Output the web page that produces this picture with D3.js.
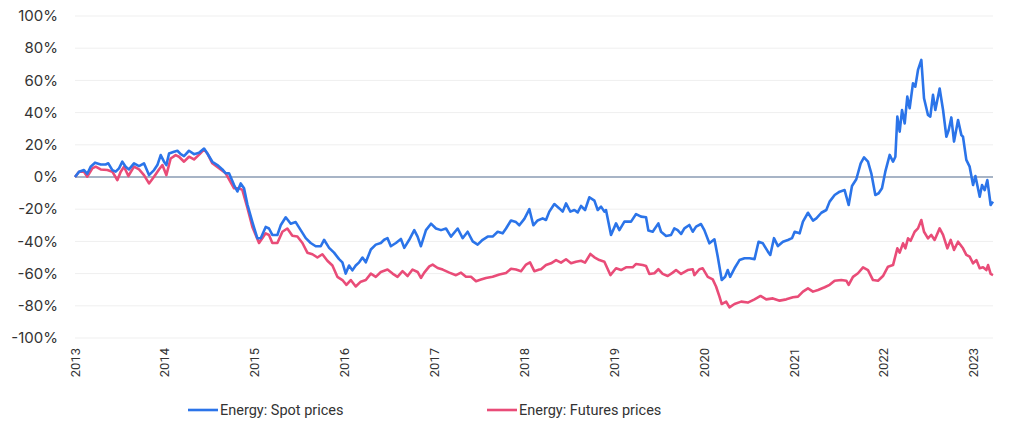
<!DOCTYPE html>
<html>
<head>
<meta charset="utf-8">
<script src="https://cdn.jsdelivr.net/npm/d3@7"></script>
<style>
  body { margin: 0; background: #fff; }
  text { font-family: Inter, "Noto Sans", sans-serif; fill: #333; }
  .legend text, .xlabel { font-family: Roboto, "Noto Sans", sans-serif; }
</style>
</head>
<body>
<script>
//chart size
var w = 1024, h = 435;

//series names
var seriesNames = ["Energy: Spot prices", "Energy: Futures prices"];

//y tick values (percent)
var yTicks = [100, 80, 60, 40, 20, 0, -20, -40, -60, -80, -100];

//x tick labels (years)
var xTickYears = [2013, 2014, 2015, 2016, 2017, 2018, 2019, 2020, 2021, 2022, 2023];

//spot prices: dates as decimal years, values in %
var spotDates = [2013.000, 2013.045, 2013.100, 2013.137, 2013.174, 2013.223, 2013.286, 2013.341, 2013.371, 2013.416,
    2013.453, 2013.490, 2013.527, 2013.564, 2013.601, 2013.657, 2013.713, 2013.768, 2013.824, 2013.880,
    2013.917, 2013.954, 2013.991, 2014.017, 2014.047, 2014.102, 2014.140, 2014.177, 2014.214, 2014.269,
    2014.325, 2014.381, 2014.437, 2014.474, 2014.529, 2014.585, 2014.641, 2014.678, 2014.715, 2014.771,
    2014.808, 2014.845, 2014.882, 2014.919, 2014.975, 2015.030, 2015.068, 2015.123, 2015.160, 2015.197,
    2015.253, 2015.290, 2015.346, 2015.402, 2015.457, 2015.513, 2015.569, 2015.624, 2015.680, 2015.736,
    2015.773, 2015.829, 2015.884, 2015.940, 2015.977, 2016.014, 2016.051, 2016.088, 2016.125, 2016.163,
    2016.200, 2016.237, 2016.293, 2016.348, 2016.404, 2016.441, 2016.478, 2016.515, 2016.571, 2016.627,
    2016.664, 2016.719, 2016.775, 2016.812, 2016.849, 2016.905, 2016.961, 2017.016, 2017.072, 2017.128,
    2017.183, 2017.258, 2017.313, 2017.369, 2017.425, 2017.480, 2017.536, 2017.592, 2017.647, 2017.703,
    2017.759, 2017.796, 2017.851, 2017.907, 2017.944, 2018.000, 2018.056, 2018.100, 2018.148,
    2018.204, 2018.241, 2018.278, 2018.334, 2018.390, 2018.427, 2018.464, 2018.512, 2018.557, 2018.594,
    2018.631, 2018.676, 2018.724, 2018.780, 2018.817, 2018.854, 2018.891, 2018.909, 2018.965, 2019.021,
    2019.058, 2019.114, 2019.188, 2019.244, 2019.299, 2019.355, 2019.381, 2019.429, 2019.492, 2019.522,
    2019.578, 2019.633, 2019.670, 2019.707, 2019.745, 2019.782, 2019.837, 2019.875, 2019.912, 2019.967,
    2020.004, 2020.060, 2020.116, 2020.153, 2020.197, 2020.235, 2020.264, 2020.290, 2020.339, 2020.394,
    2020.450, 2020.506, 2020.561, 2020.606, 2020.654, 2020.710, 2020.736, 2020.777, 2020.821, 2020.877,
    2020.932, 2020.977, 2021.007, 2021.062, 2021.099, 2021.155, 2021.211, 2021.248, 2021.304, 2021.359,
    2021.396, 2021.452, 2021.508, 2021.563, 2021.608, 2021.645, 2021.693, 2021.742, 2021.779, 2021.823,
    2021.860, 2021.905, 2021.942, 2021.979, 2022.016, 2022.065, 2022.102, 2022.128, 2022.150, 2022.176,
    2022.202, 2022.232, 2022.261, 2022.287, 2022.324, 2022.350, 2022.380, 2022.417, 2022.447, 2022.491,
    2022.517, 2022.547, 2022.573, 2022.621, 2022.659, 2022.696, 2022.722, 2022.751, 2022.781, 2022.826,
    2022.863, 2022.881, 2022.918, 2022.955, 2022.993, 2023.019, 2023.067, 2023.093, 2023.122, 2023.152,
    2023.189, 2023.215];
var spotValues = [0, 3.3, 4.3, 2, 6.4, 8.9, 7.8, 7.8, 8.5, 4.3,
    3.3, 5.4, 9.5, 6.4, 4.7, 8.5, 6.8, 8.5, 1.2, 4.3,
    7.4, 13.6, 9.5, 7.4, 14.6, 15.7, 16.3, 14.2, 13, 16.3,
    14.2, 15, 17.7, 14.6, 9.5, 7.4, 4.7, 2.3, 2.3, -5,
    -9, -4, -7, -17, -28, -38, -38, -31, -32, -36,
    -36, -30, -25, -29, -28, -33, -38, -41, -43, -43,
    -39, -44, -47, -51, -53, -60, -55, -58, -55, -53,
    -50, -53, -45, -42, -41, -39, -38, -43, -41, -38.5,
    -44, -39, -33, -37, -43, -33, -29, -32, -33, -32,
    -37, -32, -38, -34, -40, -42, -39, -37, -37, -34,
    -35, -32, -27, -28, -30, -26, -20, -30, -27,
    -25.7, -26.7, -21.5, -16.8, -19.5, -21.5, -16.4, -21.5, -20.5, -22,
    -18, -20.5, -12.6, -14.7, -20.5, -18.4, -21.5, -20.5, -36, -28.8,
    -33, -27.7, -27.7, -23, -24.6, -25, -33.3, -34, -28.8, -34,
    -36.6, -36, -31.9, -33, -35.4, -31.9, -29.8, -34, -30.8, -29.2,
    -33, -41.2, -38.7, -49.5, -64, -62, -57.8, -62, -56.7, -51.6,
    -50.5, -50.5, -51, -40.2, -41.2, -46.4, -48.4, -38, -42.9, -40.2,
    -39.1, -38, -34, -35, -27.7, -22.2, -27.1, -25.7, -22.2, -20.5,
    -15.3, -11.2, -9.1, -8.1, -17.4, -5.6, -1.4, 8.5, 12.2, 9.5,
    2.3, -11.2, -10.1, -7, 3.3, 13.7, 9.5, 12.6, 37.5, 28.2,
    41.6, 33.3, 49.9, 42.7, 58.2, 56.1, 66.5, 72.7, 48.9, 38.5,
    37.5, 51, 41.6, 55, 41.6, 25, 29.2, 37, 22, 35.4,
    26, 25, 10.6, 6.4, -5, 0.6, -12.2, -5, -8.1, -1.9,
    -17.4, -15.3];

//futures prices: dates as decimal years, values in %
var futDates = [2013.000, 2013.045, 2013.100, 2013.137, 2013.193, 2013.230, 2013.286, 2013.360, 2013.416, 2013.471,
    2013.509, 2013.546, 2013.594, 2013.657, 2013.713, 2013.768, 2013.824, 2013.880, 2013.935, 2013.973,
    2014.017, 2014.065, 2014.121, 2014.158, 2014.214, 2014.269, 2014.325, 2014.388, 2014.437, 2014.474,
    2014.529, 2014.678, 2014.771, 2014.826, 2014.863, 2014.919, 2014.975, 2015.049, 2015.123, 2015.160,
    2015.197, 2015.253, 2015.309, 2015.364, 2015.420, 2015.476, 2015.532, 2015.587, 2015.643, 2015.699,
    2015.754, 2015.810, 2015.866, 2015.921, 2015.977, 2016.022, 2016.070, 2016.125, 2016.181, 2016.237,
    2016.293, 2016.348, 2016.404, 2016.478, 2016.534, 2016.589, 2016.645, 2016.701, 2016.756, 2016.812,
    2016.849, 2016.886, 2016.942, 2016.979, 2017.035, 2017.091, 2017.165, 2017.239, 2017.295, 2017.350,
    2017.406, 2017.462, 2017.517, 2017.573, 2017.647, 2017.722, 2017.796, 2017.852, 2017.907, 2017.963,
    2018.019, 2018.063, 2018.111, 2018.167,
    2018.186, 2018.241, 2018.297, 2018.353, 2018.408, 2018.464, 2018.520, 2018.575, 2018.631, 2018.676,
    2018.735, 2018.780, 2018.835, 2018.891, 2018.958, 2019.021, 2019.077, 2019.132, 2019.206, 2019.244,
    2019.318, 2019.355, 2019.392, 2019.448, 2019.492, 2019.540, 2019.596, 2019.652, 2019.689, 2019.745,
    2019.819, 2019.875, 2019.893, 2019.949, 2019.986, 2020.042, 2020.097, 2020.134, 2020.172, 2020.197,
    2020.246, 2020.283, 2020.339, 2020.413, 2020.487, 2020.561, 2020.628, 2020.691, 2020.765, 2020.840,
    2020.914, 2020.988, 2021.044, 2021.099, 2021.155, 2021.211, 2021.267, 2021.341, 2021.396, 2021.452,
    2021.526, 2021.582, 2021.608, 2021.656, 2021.712, 2021.768, 2021.823, 2021.879, 2021.935, 2021.990,
    2022.046, 2022.102, 2022.150, 2022.176, 2022.213, 2022.239, 2022.269, 2022.298, 2022.343, 2022.380,
    2022.417, 2022.447, 2022.491, 2022.528, 2022.565, 2022.621, 2022.659, 2022.707, 2022.744, 2022.781,
    2022.826, 2022.881, 2022.918, 2022.955, 2022.993, 2023.030, 2023.067, 2023.104, 2023.141, 2023.160,
    2023.189, 2023.215];
var futValues = [0, 3.3, 3.3, 0.2, 5.4, 6.4, 4.7, 4.3, 3.3, -2,
    3.3, 6.4, 0.6, 6.4, 4.7, 1.2, -4, 0.2, 4.7, 7.4,
    1.2, 11.5, 13.6, 12.6, 9.5, 12.6, 10.9, 14.2, 17.1, 14.6,
    8.5, 2.3, -7, -7, -8, -19, -31, -41, -35, -36,
    -41, -41, -34, -32, -36.5, -37, -41, -47, -48, -50,
    -48, -52, -55, -62, -64, -67, -64, -68, -65, -64,
    -60, -62, -59, -57.5, -60, -62, -58.5, -61.5, -57.5, -59,
    -62.7, -59.4, -55.5, -54.4, -56.5, -57.5, -59.4, -61, -59.4, -62,
    -62, -64.7, -63.7, -62.7, -62, -60.6, -59.6, -57, -57.5, -58.5,
    -54.4, -53, -58.5, -57.5,
    -57.3, -54.7, -53.6, -51.6, -53.2, -51.1, -53.6, -52.6, -52, -53.2,
    -47.8, -49.9, -51.6, -52.6, -60.9, -56.7, -57.8, -56.1, -56.1, -54,
    -54.7, -55.3, -60.2, -59.8, -57.3, -60.2, -61.5, -59.4, -57.8, -60.2,
    -57.8, -57.3, -60.9, -57.3, -56.7, -62, -63.6, -68, -74.3, -78.9,
    -77.4, -81, -78.9, -77.4, -78, -76, -73.9, -76, -75.4, -76.8,
    -76, -74.7, -74.3, -71.2, -69.2, -71.2, -70.2, -68.5, -67, -64.4,
    -64, -64.4, -67, -62, -59.8, -56.1, -57.8, -64, -64.4, -61.5,
    -55.7, -54.7, -44.3, -47, -41.2, -44.3, -38.1, -39.6, -34, -31.9,
    -26.7, -34, -38.1, -36, -39.1, -31.9, -36, -44.3, -39.1, -45.3,
    -40.2, -44.3, -48.4, -49.5, -53.6, -51.6, -56.7, -56.1, -57.8, -54.7,
    -60.2, -60.9];

//colors
var colors = ["#2b74e9", "#e94c78"];

//decimal year -> Date
function toDate(yv) {
    var yr = Math.floor(yv);
    var start = new Date(yr, 0, 1), end = new Date(yr + 1, 0, 1);
    return new Date(start.getTime() + (yv - yr) * (end - start));
}

var series = [
    { name: seriesNames[0], color: colors[0], points: spotDates.map(function(d, i){ return { date: toDate(d), value: spotValues[i] }; }) },
    { name: seriesNames[1], color: colors[1], points: futDates.map(function(d, i){ return { date: toDate(d), value: futValues[i] }; }) }
];

var svg = d3.select("body")
    .append("svg")
    .attr("width", w)
    .attr("height", h);

//plot area
var plotL = 75, plotR = 993, plotT = 16, plotB = 338;

var x = d3.scaleTime()
    .domain([new Date(2013, 0, 1), toDate(2023.215)])
    .range([plotL, plotR]);

var y = d3.scaleLinear()
    .domain([-100, 100])
    .range([plotB, plotT]);

//gridlines
svg.append("g")
    .selectAll("line")
    .data(yTicks)
    .enter()
    .append("line")
    .attr("x1", plotL)
    .attr("x2", plotR)
    .attr("y1", function(d){ return y(d); })
    .attr("y2", function(d){ return y(d); })
    .style("stroke", "#efefef")
    .style("stroke-width", 1);

//y labels
svg.append("g")
    .selectAll("text")
    .data(yTicks)
    .enter()
    .append("text")
    .attr("x", 58)
    .attr("y", function(d){ return y(d); })
    .attr("dy", "0.35em")
    .attr("text-anchor", "end")
    .style("font-size", "15px")
    .text(function(d){ return d + "%"; });

//x labels, rotated
svg.append("g")
    .selectAll("text")
    .data(xTickYears)
    .enter()
    .append("text")
    .attr("class", "xlabel")
    .attr("transform", function(d){
        return "translate(" + x(new Date(d, 0, 1)) + ",348) rotate(-90)";
    })
    .attr("dy", "0.35em")
    .attr("text-anchor", "end")
    .style("font-size", "13px")
    .text(function(d){ return d; });

//zero line
svg.append("line")
    .attr("x1", plotL)
    .attr("x2", plotR)
    .attr("y1", y(0))
    .attr("y2", y(0))
    .style("stroke", "#a7b4c6")
    .style("stroke-width", 2);

var line = d3.line()
    .x(function(d){ return x(d.date); })
    .y(function(d){ return y(d.value); });

//futures drawn first, spot on top
svg.selectAll(".series")
    .data(series.slice().reverse())
    .enter()
    .append("path")
    .attr("class", "series")
    .attr("d", function(d){ return line(d.points); })
    .style("fill", "none")
    .style("stroke", function(d){ return d.color; })
    .style("stroke-width", 2.6)
    .style("stroke-linejoin", "round");

//legend
var legendX = [188, 487];
var legend = svg.selectAll(".legend")
    .data(series)
    .enter()
    .append("g")
    .attr("class", "legend")
    .attr("transform", function(d, i){ return "translate(" + legendX[i] + ",410)"; });

legend.append("line")
    .attr("x1", 0)
    .attr("x2", 30)
    .style("stroke", function(d){ return d.color; })
    .style("stroke-width", 2.6);

legend.append("text")
    .attr("x", 32)
    .attr("dy", "0.35em")
    .style("font-size", "14.5px")
    .text(function(d){ return d.name; });
</script>
</body>
</html>
